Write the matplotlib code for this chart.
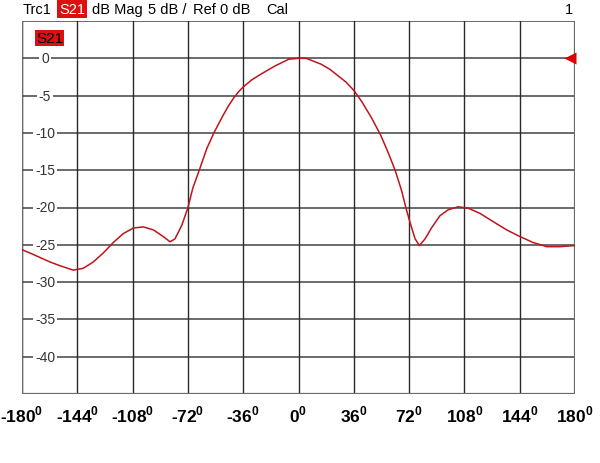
import matplotlib
matplotlib.use("Agg")
import matplotlib.pyplot as plt
import matplotlib.transforms as mtransforms

plt.rcParams['font.family'] = ['Liberation Sans', 'DejaVu Sans']
plt.rcParams['mathtext.fontset'] = 'custom'
plt.rcParams['mathtext.rm'] = 'Liberation Sans'
plt.rcParams['mathtext.bf'] = 'Liberation Sans:bold'

# S21 magnitude vs angle
angle = [-180, -174.8, -168.3, -161.8, -155.3, -146.6, -140.1, -133.6, -127.1,
         -120.6, -114.1, -107.5, -101.0, -94.5, -88.0, -83.6, -80.4, -76.0,
         -72.1, -68.8, -64.6, -59.7, -55.1, -49.1, -45.5, -42.0, -39.0, -36.0,
         -30.5, -25.4, -20.1, -14.8, -6.4, 0, 5, 14.8, 20.3, 25.8, 31.0, 36.0,
         41.0, 47.6, 53.5, 58.5, 62.9, 67.2, 70.0, 72.6, 75.9, 78.7, 82.4,
         86.7, 92.1, 97.5, 104.0, 110.6, 118.2, 126.8, 135.5, 144.2, 152.8,
         161.6, 170.2, 180]
s21 = [-25.66, -26.1, -26.7, -27.3, -27.8, -28.4, -28.15, -27.3, -26.1,
       -24.7, -23.5, -22.75, -22.6, -23.0, -23.9, -24.6, -24.2, -22.4,
       -20.1, -17.4, -15.0, -12.1, -10.0, -7.65, -6.35, -5.26, -4.48, -3.85,
       -2.9, -2.24, -1.6, -0.97, -0.13, 0.0, 0.0, -0.8, -1.46, -2.35, -3.2,
       -4.3, -5.75, -8.0, -10.3, -12.7, -15.0, -17.8, -20.1, -22.0, -24.2,
       -25.1, -24.2, -22.7, -21.1, -20.3, -19.9, -20.1, -20.8, -21.9, -23.0,
       -23.9, -24.7, -25.25, -25.25, -25.1]

xticks = [-180, -144, -108, -72, -36, 0, 36, 72, 108, 144, 180]
yticks = [0, -5, -10, -15, -20, -25, -30, -35, -40]
ref_level = 0

fig = plt.figure(figsize=(6, 4.64), dpi=100)
ax = fig.add_axes([22/600, 1 - 395/464, 553/600, 373/464])
ax.set_xlim(-180, 180)
ax.set_ylim(-45, 5)

# grid: gray horizontal, dark vertical
for y in [5, 0, -5, -10, -15, -20, -25, -30, -35, -40]:
    ax.axhline(y, color='#6a6a6a', lw=1.4, zorder=1)
for x in xticks:
    ax.axvline(x, color='#2a2a2a', lw=1.0, zorder=1)

for sp in ax.spines.values():
    sp.set_visible(False)
ax.axvline(-180, color='#6a6a6a', lw=1.6, zorder=1)
ax.axvline(180, color='#6a6a6a', lw=1.6, zorder=1)
ax.axhline(-45, color='#6a6a6a', lw=1.6, zorder=1)

ax.plot(angle, s21, color='#c0141c', lw=1.1, zorder=3, solid_joinstyle='round')

# reference marker at right edge
off = mtransforms.offset_copy(ax.transData, fig=fig, x=-5, y=0, units='dots')
ax.plot([180], [ref_level], marker='<', color='#dd0000', ms=8, mec='none',
        transform=off, clip_on=False, zorder=4)

# y labels drawn inside the grid
ylab_tr = mtransforms.blended_transform_factory(fig.transFigure, ax.transData)
for y in yticks:
    ax.text(45/600, y, str(y), transform=ylab_tr, ha='center', va='center',
            fontsize=10, color='#333333', zorder=2,
            bbox=dict(boxstyle='square,pad=0.15', fc='white', ec='none'))

ax.set_yticks([])
ax.set_xticks(xticks)
ax.set_xticklabels([r'%d$^{\mathbf{0}}$' % t for t in xticks],
                   fontsize=12.5, fontweight='bold')
ax.tick_params(axis='x', length=0, pad=7)

# trace label box
fig.text(36/600, 1 - 39/464, 'S21', fontsize=11, color='black',
         ha='left', va='center',
         bbox=dict(boxstyle='square,pad=0.08', fc='#dd1010', ec='none'))

# header line
hy = 1 - 10/464
fig.text(23/600, hy, 'Trc1', fontsize=10.5, va='center', ha='left')
fig.text(59/600, hy, 'S21', fontsize=10.5, va='center', ha='left', color='white',
         bbox=dict(boxstyle='square,pad=0.12', fc='#dd1010', ec='none'))
fig.text(92/600, hy, 'dB Mag', fontsize=10.5, va='center', ha='left')
fig.text(148/600, hy, '5 dB /', fontsize=10.5, va='center', ha='left')
fig.text(193/600, hy, 'Ref 0 dB', fontsize=10.5, va='center', ha='left')
fig.text(266/600, hy, 'Cal', fontsize=10.5, va='center', ha='left')
fig.text(573/600, hy, '1', fontsize=10.5, va='center', ha='right')

fig.savefig('out.png', dpi=100)
